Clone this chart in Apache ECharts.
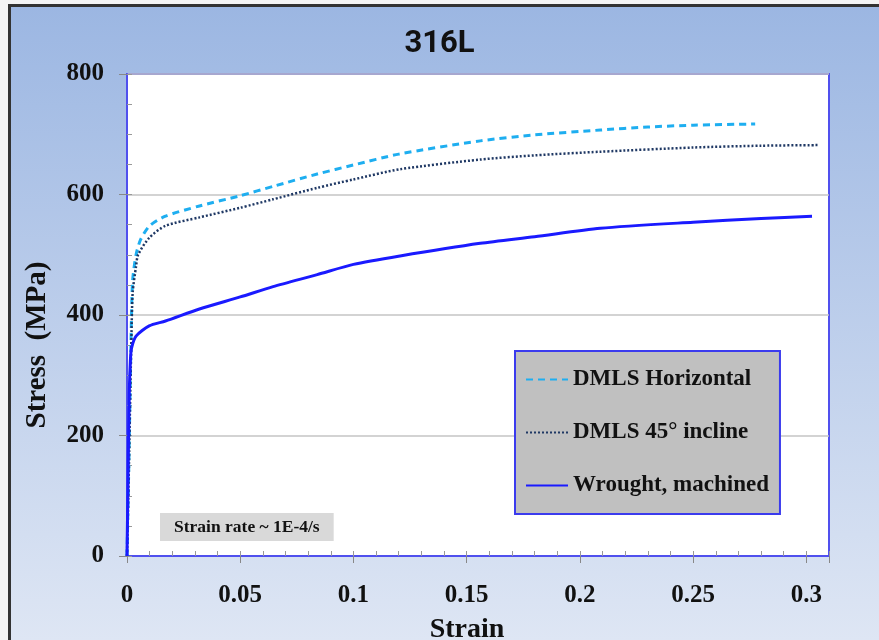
<!DOCTYPE html>
<html>
<head>
<meta charset="utf-8">
<script src="https://cdn.jsdelivr.net/npm/echarts@6/dist/echarts.min.js"></script>
<style>html,body{margin:0;padding:0;background:#fff}#c{width:879px;height:640px}</style>
</head>
<body>
<div id="c"></div>
<script>
const titleText = '316L';
const xTicks = [0, 0.05, 0.1, 0.15, 0.2, 0.25, 0.3];
const yTicks = [0, 200, 400, 600, 800];
const seriesNames = ['DMLS Horizontal', 'DMLS 45° incline', 'Wrought, machined'];

const horizStrain = [0, 0.0008, 0.0015, 0.002, 0.0025, 0.004, 0.006, 0.01, 0.017, 0.032, 0.05, 0.065, 0.084, 0.1, 0.12, 0.156, 0.18, 0.209, 0.23, 0.25, 0.2774];
const horizStress = [0, 150, 300, 400, 458, 500, 525, 548, 564, 581, 598, 614, 634, 649, 667, 689, 699, 707, 712, 715, 717];

const inclStrain = [0, 0.0008, 0.0015, 0.002, 0.0025, 0.004, 0.0049, 0.0098, 0.017, 0.032, 0.05, 0.0645, 0.084, 0.1, 0.1206, 0.156, 0.18, 0.209, 0.25, 0.28, 0.305];
const inclStress = [0, 140, 280, 370, 437, 481, 500, 528, 548, 562, 578, 592, 611, 625, 642, 658, 665, 671, 678, 681, 682];

const wroughtStrain = [0, 0.0005, 0.001, 0.0015, 0.002, 0.004, 0.0098, 0.017, 0.032, 0.05, 0.0645, 0.084, 0.1, 0.1206, 0.156, 0.18, 0.209, 0.25, 0.28, 0.3025];
const wroughtStress = [0, 140, 270, 325, 345, 365, 382, 390, 410, 430, 447, 467, 484, 498, 519, 530, 544, 554, 560, 564];

const noteText = 'Strain rate ~ 1E-4/s';

const pair = (xs, ys) => xs.map((x, i) => [x, ys[i]]);
const serif = "'Liberation Serif', 'Times New Roman', serif";

const chart = echarts.init(document.getElementById('c'), null, {renderer: 'canvas'});
chart.setOption({
  backgroundColor: {
    type: 'linear', x: 0, y: 0, x2: 0, y2: 1,
    colorStops: [{offset: 0, color: '#9bb6e2'}, {offset: 1, color: '#dee6f4'}]
  },
  animation: false,
  title: [
    {text: titleText, left: 'center', top: 24,
     textStyle: {fontFamily: "Roboto, 'Noto Sans', sans-serif", fontWeight: 'bold', fontSize: 31, color: '#111'}},
    {text: noteText, left: 160, top: 513, backgroundColor: '#d9d9d9', padding: [5, 14, 5, 14],
     textStyle: {fontFamily: serif, fontWeight: 'bold', fontSize: 17.5, color: '#111'}}
  ],
  graphic: [
    {type: 'rect', shape: {x: 0, y: 0, width: 879, height: 4}, style: {fill: '#f4f4f4'}, silent: true},
    {type: 'rect', shape: {x: 0, y: 0, width: 8, height: 640}, style: {fill: '#f4f4f4'}, silent: true},
    {type: 'rect', shape: {x: 8, y: 4, width: 871, height: 3}, style: {fill: '#333'}, silent: true},
    {type: 'rect', shape: {x: 8, y: 4, width: 3, height: 636}, style: {fill: '#333'}, silent: true}
  ],
  legend: {
    left: 515, top: 351, orient: 'vertical',
    backgroundColor: '#c0c0c0', borderColor: '#3b3bee', borderWidth: 2,
    padding: [17, 11, 17, 10], itemGap: 30, itemWidth: 42, itemHeight: 14,
    itemStyle: {opacity: 0},
    textStyle: {fontFamily: serif, fontWeight: 'bold', fontSize: 23, color: '#111'},
    data: seriesNames
  },
  grid: {left: 127, top: 74, right: 50, bottom: 84, outerBoundsMode: 'none', containLabel: false,
    show: true, backgroundColor: '#fff', borderColor: '#5050ee', borderWidth: 2},
  xAxis: [{
    type: 'value', min: 0, max: 0.31, interval: 0.05,
    name: 'Strain', nameLocation: 'middle', nameGap: 60,
    nameTextStyle: {fontFamily: serif, fontWeight: 'bold', fontSize: 28, color: '#111', padding: [0, 22, 0, 0]},
    axisLine: {lineStyle: {color: '#5050ee', width: 2}},
    axisTick: {show: true, length: 7, lineStyle: {color: '#888'}},
    axisLabel: {fontFamily: serif, fontWeight: 'bold', fontSize: 25, color: '#111', margin: 27,
      formatter: v => (xTicks.some(t => Math.abs(t - v) < 1e-9) ? String(+v.toFixed(2)) : '')},
    splitLine: {show: false}
  }, {
    type: 'value', min: 0, max: 0.31, interval: 0.01, position: 'bottom',
    axisLine: {show: false}, axisLabel: {show: false}, splitLine: {show: false},
    axisTick: {show: true, inside: true, length: 5, lineStyle: {color: '#999'}}
  }],
  yAxis: [{
    type: 'value', min: 0, max: 800, interval: 200,
    name: 'Stress  (MPa)', nameLocation: 'middle', nameGap: 75,
    nameTextStyle: {fontFamily: serif, fontWeight: 'bold', fontSize: 29, color: '#111', padding: [0, 60, 0, 0]},
    axisLine: {show: true, lineStyle: {color: '#5050ee', width: 2}},
    axisTick: {show: true, length: 8, lineStyle: {color: '#888'}},
    axisLabel: {fontFamily: serif, fontWeight: 'bold', fontSize: 25, color: '#111', margin: 23,
      formatter: v => (yTicks.includes(v) ? String(v) : '')},
    splitLine: {show: true, lineStyle: {color: '#c4c4c4', width: 1.5}}
  }, {
    type: 'value', min: 0, max: 800, interval: 50, position: 'left',
    axisLine: {show: false}, axisLabel: {show: false}, splitLine: {show: false},
    axisTick: {show: true, inside: true, length: 5, lineStyle: {color: '#999'}}
  }],
  series: [
    {name: seriesNames[0], type: 'line', symbol: 'none', smooth: 0.25, xAxisIndex: 0, yAxisIndex: 0,
     data: pair(horizStrain, horizStress), z: 3,
     lineStyle: {color: '#1eaef0', width: 3, type: [7, 5]}, itemStyle: {color: '#1eaef0'}},
    {name: seriesNames[1], type: 'line', symbol: 'none', smooth: 0.25, xAxisIndex: 0, yAxisIndex: 0,
     data: pair(inclStrain, inclStress), z: 4,
     lineStyle: {color: '#1f3864', width: 2.5, type: [2, 2]}, itemStyle: {color: '#1f3864'}},
    {name: seriesNames[2], type: 'line', symbol: 'none', smooth: 0.25, xAxisIndex: 0, yAxisIndex: 0,
     data: pair(wroughtStrain, wroughtStress), z: 5,
     lineStyle: {color: '#1a1aff', width: 3, type: 'solid'}, itemStyle: {color: '#1a1aff'}}
  ]
});
</script>
</body>
</html>
